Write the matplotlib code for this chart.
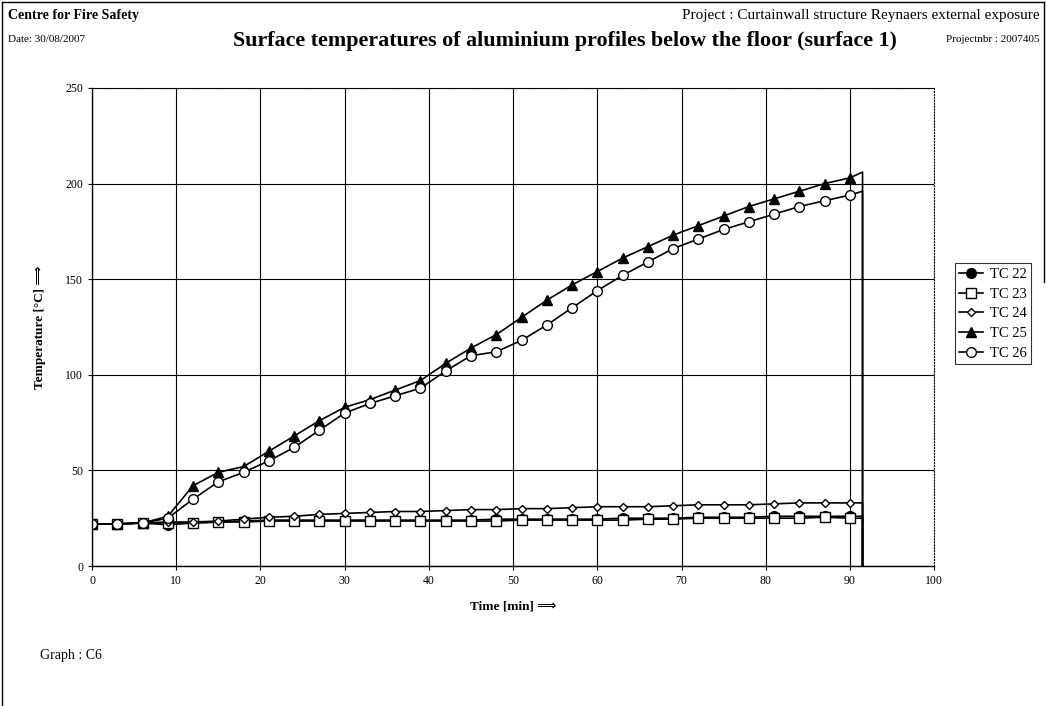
import matplotlib.pyplot as plt

plt.rcParams['font.family'] = ['Liberation Serif', 'DejaVu Sans']

# Readings every 3 minutes, last reading at 91.5 min, then logging stopped (0)
time_min = list(range(0, 91, 3)) + [91.5, 91.5]

tc22 = [22, 22, 22.5, 21.5, 22.5, 23, 23.5, 24, 24, 24, 24, 24, 24, 24, 24, 24,
        24.5, 24.5, 24.5, 24.5, 24.5, 25, 25, 25, 25.5, 25.5, 25.5, 26, 26, 26, 26, 26, 0]
tc23 = [22, 22, 22.5, 22.5, 22.5, 23, 23, 23.5, 23.5, 23.5, 23.5, 23.5, 23.5, 23.5, 23.5, 23.5,
        23.5, 24, 24, 24, 24, 24, 24.5, 24.5, 25, 25, 25, 25, 25, 25.5, 25, 25, 0]
tc24 = [22, 22, 22.5, 23, 23, 23.5, 24.5, 25.5, 26, 27, 27.5, 28, 28.5, 28.5, 29, 29.5,
        29.5, 30, 30, 30.5, 31, 31, 31, 31.5, 32, 32, 32, 32.5, 33, 33, 33, 33, 0]
tc25 = [22, 22, 22.5, 26, 42, 49, 52, 60, 68, 76, 83, 87, 92, 97, 106, 114,
        121, 130, 139, 147, 154, 161, 167, 173, 178, 183, 188, 192, 196, 200, 203, 206, 0]
tc26 = [22, 22, 22.5, 25, 35, 44, 49, 55, 62, 71, 80, 85, 89, 93, 102, 110,
        112, 118, 126, 135, 144, 152, 159, 166, 171, 176, 180, 184, 188, 191, 194, 196, 0]

labels = ['TC 22', 'TC 23', 'TC 24', 'TC 25', 'TC 26']
series = [tc22, tc23, tc24, tc25, tc26]
markers = ['o', 's', 'D', '^', 'o']
faces = ['black', 'white', 'white', 'black', 'white']
sizes = [7, 7, 4.5, 7, 7]

fig = plt.figure(figsize=(10.47, 7.06), dpi=100)
ax = fig.add_axes([0.0879, 0.1983, 0.8043, 0.6771])

for vals, lab, m, fc, ms in zip(series, labels, markers, faces, sizes):
    ax.plot(time_min, vals, color='black', lw=1.2, marker=m, markersize=ms,
            markerfacecolor=fc, markeredgecolor='black', markeredgewidth=1,
            markevery=slice(0, 31), label=lab)

ax.set_xlim(0, 100)
ax.set_ylim(0, 250)
ax.set_xticks(range(0, 101, 10))
ax.set_yticks(range(0, 251, 50))
ax.grid(True, color='black', lw=0.8)
ax.tick_params(labelsize=8.5, length=3, width=0.8, direction='out')
for side in ['top', 'right']:
    ax.spines[side].set_linestyle(':')
    ax.spines[side].set_linewidth(0.8)
for side in ['left', 'bottom']:
    ax.spines[side].set_linewidth(1.0)

ax.set_xlabel('Time [min] ⟹', fontsize=9.5, fontweight='bold', labelpad=10)
ax.set_ylabel('Temperature [°C] ⟹', fontsize=9.5, fontweight='bold', labelpad=14)

leg = fig.legend(loc='upper left', bbox_to_anchor=(0.912, 0.627), fontsize=10.5,
                 frameon=True, fancybox=False, edgecolor='black',
                 handlelength=1.6, handletextpad=0.5, borderpad=0.3,
                 borderaxespad=0, labelspacing=0.45)
leg.get_frame().set_linewidth(0.8)

# header texts
fig.text(0.008, 0.978, 'Centre for Fire Safety', fontsize=10, fontweight='bold', va='center')
fig.text(0.008, 0.944, 'Date: 30/08/2007', fontsize=8, va='center')
fig.text(0.540, 0.942, 'Surface temperatures of aluminium profiles below the floor (surface 1)',
         fontsize=15.8, fontweight='bold', ha='center', va='center')
fig.text(0.993, 0.978, 'Project : Curtainwall structure Reynaers external exposure',
         fontsize=11, ha='right', va='center')
fig.text(0.993, 0.944, 'Projectnbr : 2007405', fontsize=8, ha='right', va='center')
fig.text(0.038, 0.072, 'Graph : C6', fontsize=10, va='center')

# page frame
fig.add_artist(plt.Line2D([0.002, 0.002], [0, 0.997], color='black', lw=1.0))
fig.add_artist(plt.Line2D([0.002, 0.997], [0.997, 0.997], color='black', lw=1.0))
fig.add_artist(plt.Line2D([0.997, 0.997], [0.6, 0.997], color='black', lw=1.0))

fig.savefig('out.png', dpi=100)
